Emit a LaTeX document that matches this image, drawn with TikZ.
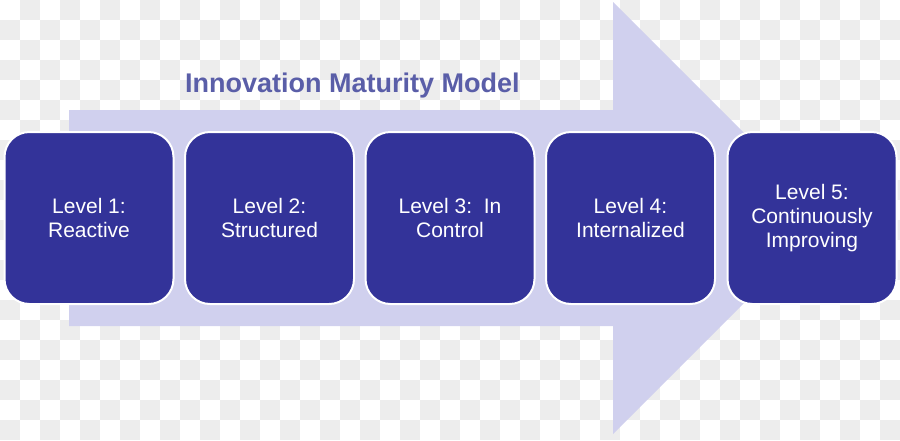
\documentclass[tikz,border=0pt]{standalone}
\usepackage{fontspec}
\setmainfont{Liberation Sans}
\definecolor{chk}{RGB}{237,237,237}
\definecolor{arrowc}{RGB}{208,208,238}
\definecolor{boxc}{RGB}{51,51,153}
\definecolor{titlec}{RGB}{90,94,168}
\tikzset{
  levelbox/.style={shape=rectangle, rounded corners=25pt, fill=boxc, draw=white,
    line width=2pt, minimum width=169pt, minimum height=172pt, inner sep=0pt,
    align=center, text=white, font=\fontsize{21}{24}\selectfont},
  titletext/.style={text=titlec, font=\bfseries\fontsize{27}{30}\selectfont, inner sep=0pt}
}
\begin{document}
\begin{tikzpicture}[x=1pt,y=-1pt]
\useasboundingbox (0,0) rectangle (900,440);
% transparency checkerboard
\foreach \i in {0,...,44}{
  \foreach \j in {0,...,21}{
    \pgfmathtruncatemacro{\parity}{mod(\i+\j,2)}
    \ifnum\parity=1 \fill[chk] (\i*20,\j*20) rectangle ++(20,20); \fi
  }
}
% big arrow
\fill[arrowc] (69,110) -- (613,110) -- (613,2) -- (829,218) -- (613,434) -- (613,326) -- (69,326) -- cycle;
% title
\node[titletext, anchor=base west] (title) at (185,92) {Innovation Maturity Model};
% boxes
\node[levelbox] (l1) at (89,218) {Level 1:\\Reactive};
\node[levelbox] (l2) at (269.5,218) {Level 2:\\Structured};
\node[levelbox] (l3) at (450,218) {Level 3:\ \ In\\Control};
\node[levelbox] (l4) at (630.5,218) {Level 4:\\Internalized};
\node[levelbox] (l5) at (812,218) {Level 5:\\Continuously\\Improving};
\end{tikzpicture}
\end{document}
